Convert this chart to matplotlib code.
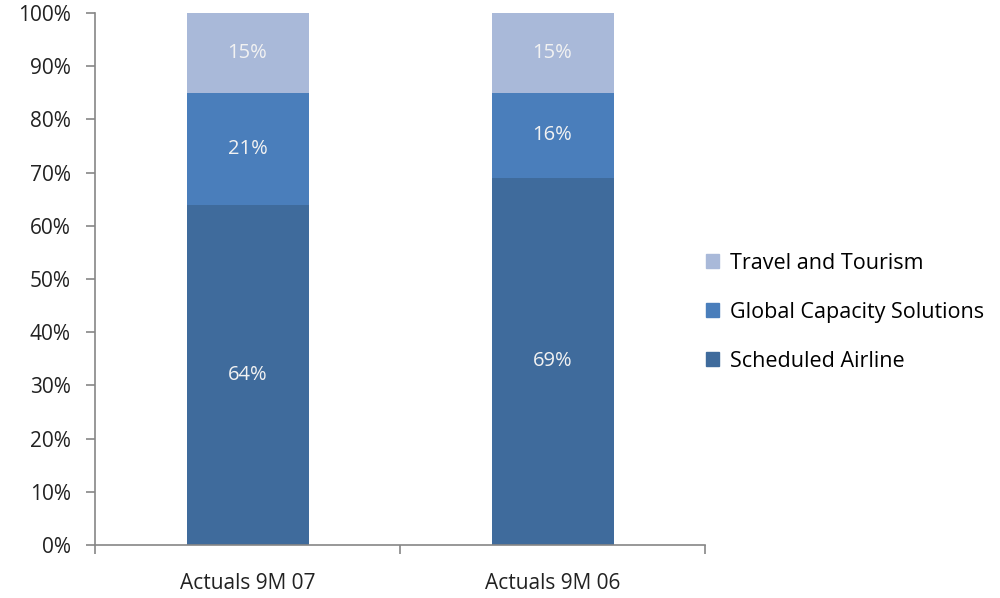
import matplotlib
matplotlib.use("Agg")
import matplotlib.pyplot as plt
from matplotlib.patches import Patch

categories = ["Actuals 9M 07", "Actuals 9M 06"]
series_names = ["Scheduled Airline", "Global Capacity Solutions", "Travel and Tourism"]
scheduled = [64, 69]
global_cap = [21, 16]
travel = [15, 15]
colors = ["#3F6B9C", "#4A7EBB", "#A9B9D9"]

plt.rcParams['font.family'] = ['Open Sans', 'DejaVu Sans']

fig = plt.figure(figsize=(10, 5.98), dpi=100)
ax = fig.add_axes([0.095, 0.0886, 0.61, 0.8897])

x = list(range(len(categories)))
bottom = [0, 0]
for vals, col in zip([scheduled, global_cap, travel], colors):
    bars = ax.bar(x, vals, width=0.4, bottom=bottom, color=col, edgecolor='none')
    for xi, v, b in zip(x, vals, bottom):
        ax.text(xi, b + v / 2, f"{v}%", ha='center', va='center', color='#F2F2F2', fontsize=14.5)
    bottom = [b + v for b, v in zip(bottom, vals)]

ax.set_xlim(-0.5, 1.5)
ax.set_ylim(0, 100)
ax.set_yticks(range(0, 101, 10))
ax.set_yticklabels([f"{t}%" for t in range(0, 101, 10)], fontsize=15, color='#222222')
ax.set_xticks([-0.5, 0.5, 1.5])
ax.set_xticklabels([])
ax.set_xticks(x, minor=True)
ax.set_xticklabels(categories, minor=True, fontsize=15, color='#222222')
ax.tick_params(axis='x', which='minor', length=0, pad=20)
ax.tick_params(axis='x', which='major', length=6.5, color='#868686', width=1.2)
ax.tick_params(axis='y', length=6.5, color='#868686', width=1.2, pad=11)
for s in ['top', 'right']:
    ax.spines[s].set_visible(False)
for s in ['left', 'bottom']:
    ax.spines[s].set_color('#868686')
    ax.spines[s].set_linewidth(1.2)

handles = [Patch(color=c, label=n) for n, c in zip(series_names, colors)][::-1]
fig.legend(handles=handles, loc='center left', bbox_to_anchor=(0.706, 0.478), frameon=False,
           fontsize=15.5, handlelength=0.6, handleheight=0.6, handletextpad=0.5,
           labelspacing=1.3, borderpad=0, borderaxespad=0)

fig.savefig("out.png", dpi=100)
